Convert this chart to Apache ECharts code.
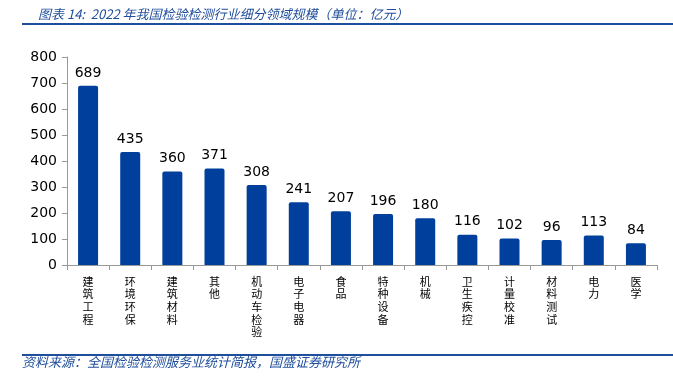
<!DOCTYPE html>
<html>
<head>
<meta charset="utf-8">
<script src="https://cdn.jsdelivr.net/npm/echarts@6/dist/echarts.min.js"></script>
<style>
  html, body { margin: 0; padding: 0; background: #fff; }
  #main { width: 673px; height: 381px; }
</style>
</head>
<body>
<div id="main"></div>
<script>
// 2022 检验检测 细分领域规模（亿元）
var categories = ['建筑工程', '环境环保', '建筑材料', '其他', '机动车检验', '电子电器', '食品',
  '特种设备', '机械', '卫生疾控', '计量校准', '材料测试', '电力', '医学'];
var values = [689, 435, 360, 371, 308, 241, 207, 196, 180, 116, 102, 96, 113, 84];
var yTicks = [0, 100, 200, 300, 400, 500, 600, 700, 800];

var blue = '#00409c';
var chart = echarts.init(document.getElementById('main'));

chart.setOption({
  animation: false,
  backgroundColor: '#fff',
  title: {
    text: '图表 14:  2022 年我国检验检测行业细分领域规模（单位：亿元）',
    left: 33, top: 3,
    textStyle: { fontSize: 13, fontStyle: 'italic', fontWeight: 'normal', color: '#1f4e9c',
      fontFamily: 'Noto Sans CJK SC' }
  },
  graphic: [
    { type: 'line', shape: { x1: 22, y1: 24, x2: 673, y2: 24 }, style: { stroke: '#1f4e9c', lineWidth: 2 } },
    { type: 'line', shape: { x1: 22, y1: 355, x2: 673, y2: 355 }, style: { stroke: '#1f4e9c', lineWidth: 2 } },
    { type: 'text', left: 22, top: 356,
      style: { text: '资料来源：全国检验检测服务业统计简报，国盛证券研究所', fontSize: 13, fontStyle: 'italic',
        fill: '#1f4e9c', fontFamily: 'Noto Sans CJK SC' } }
  ],
  grid: { left: 67, right: 16, top: 57, bottom: 116 },
  xAxis: {
    type: 'category',
    data: categories,
    axisLine: { lineStyle: { color: '#999', width: 1 } },
    axisTick: { show: true, length: 5, inside: false, lineStyle: { color: '#999' } },
    axisLabel: {
      margin: 10, interval: 0, color: '#000', fontSize: 11, lineHeight: 12.7,
      fontFamily: 'Noto Sans CJK SC',
      formatter: function (v) { return v.split('').join('\n'); }
    }
  },
  yAxis: {
    type: 'value',
    min: yTicks[0], max: yTicks[yTicks.length - 1], interval: 100,
    splitLine: { show: false },
    axisLine: { show: true, lineStyle: { color: '#999' } },
    axisTick: { show: true, length: 5, lineStyle: { color: '#999' } },
    axisLabel: { margin: 10, color: '#000', fontSize: 14, fontFamily: 'DejaVu Sans' }
  },
  series: [{
    type: 'bar',
    data: values,
    barWidth: 20,
    itemStyle: { color: blue, borderRadius: [2, 2, 0, 0] },
    label: { show: true, position: 'top', distance: 6, color: '#000', fontSize: 14, fontFamily: 'DejaVu Sans' }
  }]
});
</script>
</body>
</html>
